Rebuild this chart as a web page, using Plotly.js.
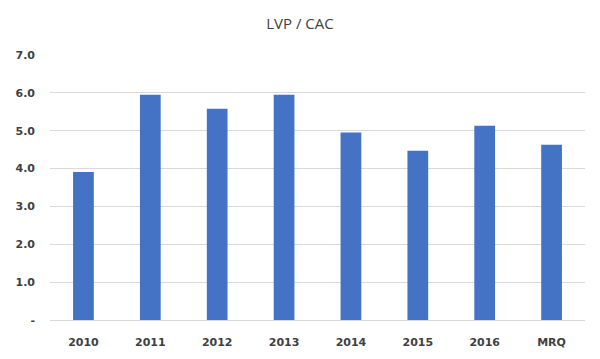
<!DOCTYPE html>
<html>
<head>
<meta charset="utf-8">
<script src="https://cdn.plot.ly/plotly-3.0.1.min.js"></script>
<style>html,body{margin:0;padding:0;background:#fff}#chart{width:600px;height:359px}</style>
</head>
<body>
<div id="chart"></div>
<script>
const categories = ["2010", "2011", "2012", "2013", "2014", "2015", "2016", "MRQ"];
const values = [3.91, 5.95, 5.58, 5.95, 4.95, 4.47, 5.13, 4.63];
const yTickVals = [0, 1, 2, 3, 4, 5, 6, 7];
const yTickText = ["-", "1.0", "2.0", "3.0", "4.0", "5.0", "6.0", "7.0"];

const tickFont = {family: "DejaVu Sans", size: 11, color: "#404040", weight: "bold"};

Plotly.newPlot("chart", [{
  type: "bar",
  x: categories,
  y: values,
  marker: {color: "#4472C4"},
  hoverinfo: "none"
}], {
  width: 600, height: 359,
  margin: {l: 50, r: 15, t: 55, b: 38.5},
  paper_bgcolor: "#fff", plot_bgcolor: "#fff",
  bargap: 0.69,
  title: {text: "LVP / CAC", x: 0.5, xanchor: "center", y: 0.935, yanchor: "middle",
    font: {family: "Open Sans", size: 15, color: "#404040"}},
  xaxis: {
    type: "category",
    showgrid: false, showline: true, linecolor: "#d9d9d9", linewidth: 1,
    ticks: "", tickfont: tickFont, ticklabelstandoff: 12, zeroline: false
  },
  yaxis: {
    range: [0, 7], tickvals: yTickVals, ticktext: yTickText,
    showgrid: true, gridcolor: "#d9d9d9", gridwidth: 1,
    zeroline: false, showline: false, ticks: "",
    tickfont: tickFont, ticklabelstandoff: 14
  },
  showlegend: false
}, {displayModeBar: false, staticPlot: true});
</script>
</body>
</html>
